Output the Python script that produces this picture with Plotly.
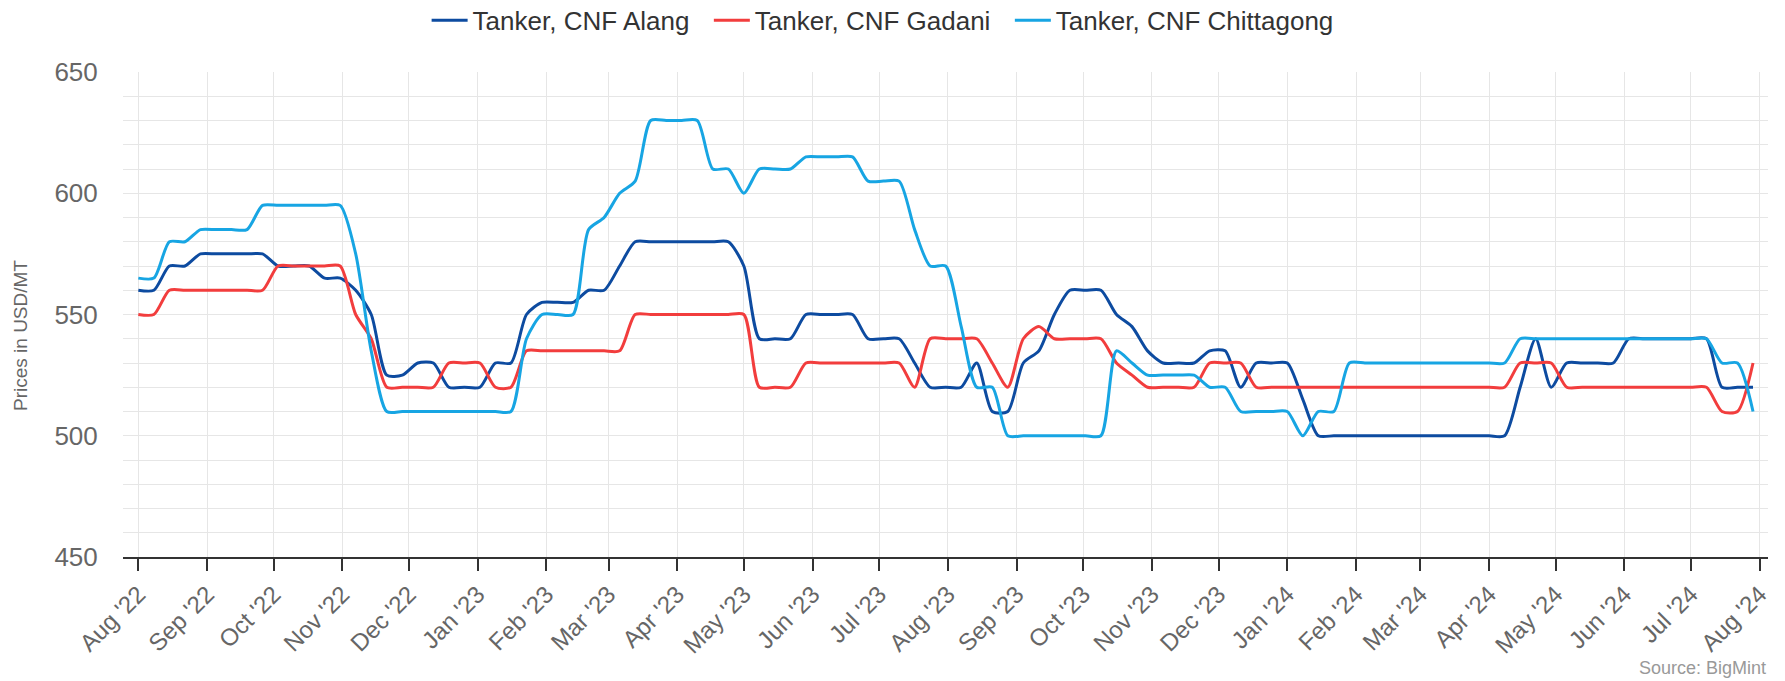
import pandas as pd
import plotly.graph_objects as go

# weekly price points (USD/MT), Aug '22 -> end Jul '24
weeks = pd.date_range("2022-08-01", periods=105, freq="7D")

alang = [
    560, 560, 570, 570, 575, 575, 575, 575, 575, 570, 570, 570, 565,
    565, 560, 550, 525, 525, 530, 530, 520, 520, 520, 530, 530, 550,
    555, 555, 555, 560, 560, 570, 580, 580, 580, 580, 580, 580, 580,
    570, 540, 540, 540, 550, 550, 550, 550, 540, 540, 540, 530, 520,
    520, 520, 530, 510, 510, 530, 535, 550, 560, 560, 560, 550, 545,
    535, 530, 530, 530, 535, 535, 520, 530, 530, 530, 515, 500, 500,
    500, 500, 500, 500, 500, 500, 500, 500, 500, 500, 500, 520, 540,
    520, 530, 530, 530, 530, 540, 540, 540, 540, 540, 540, 520, 520,
    520,
]
gadani = [
    550, 550, 560, 560, 560, 560, 560, 560, 560, 570, 570, 570, 570,
    570, 550, 540, 520, 520, 520, 520, 530, 530, 530, 520, 520, 535,
    535, 535, 535, 535, 535, 535, 550, 550, 550, 550, 550, 550, 550,
    550, 520, 520, 520, 530, 530, 530, 530, 530, 530, 530, 520, 540,
    540, 540, 540, 530, 520, 540, 545, 540, 540, 540, 540, 530, 525,
    520, 520, 520, 520, 530, 530, 530, 520, 520, 520, 520, 520, 520,
    520, 520, 520, 520, 520, 520, 520, 520, 520, 520, 520, 530, 530,
    530, 520, 520, 520, 520, 520, 520, 520, 520, 520, 520, 510, 510,
    530,
]
chittagong = [
    565, 565, 580, 580, 585, 585, 585, 585, 595, 595, 595, 595, 595,
    595, 575, 535, 510, 510, 510, 510, 510, 510, 510, 510, 510, 540,
    550, 550, 550, 585, 590, 600, 605, 630, 630, 630, 630, 610, 610,
    600, 610, 610, 610, 615, 615, 615, 615, 605, 605, 605, 585, 570,
    570, 545, 520, 520, 500, 500, 500, 500, 500, 500, 500, 535, 530,
    525, 525, 525, 525, 520, 520, 510, 510, 510, 510, 500, 510, 510,
    530, 530, 530, 530, 530, 530, 530, 530, 530, 530, 530, 540, 540,
    540, 540, 540, 540, 540, 540, 540, 540, 540, 540, 540, 530, 530,
    510,
]

SERIES = [
    ("Tanker, CNF Alang", alang, "#0D4BA0"),
    ("Tanker, CNF Gadani", gadani, "#F23D3D"),
    ("Tanker, CNF Chittagong", chittagong, "#17A5E3"),
]

FONT = "Arial, 'Liberation Sans', sans-serif"
GRID = "#e6e6e6"
PAD = "\u00a0\u00a0"  # extra room between legend entries

fig = go.Figure()
for i, (name, vals, color) in enumerate(SERIES):
    label = name + (PAD if i < len(SERIES) - 1 else "")
    fig.add_trace(go.Scatter(
        x=weeks, y=vals, name=label, mode="lines",
        line=dict(color=color, width=3, shape="spline", smoothing=0.7),
        hovertemplate="%{x|%d %b %Y}<br>%{y} USD/MT<extra>" + name + "</extra>",
    ))

fig.update_layout(
    width=1785, height=681,
    margin=dict(l=123, r=17, t=72, b=124),
    paper_bgcolor="white", plot_bgcolor="white",
    font=dict(family=FONT, color="#666"),
    legend=dict(
        orientation="h", xref="container", yref="container",
        x=0.239, xanchor="left", y=0.97, yanchor="middle",
        font=dict(size=26, color="#333"), itemwidth=36,
    ),
    xaxis=dict(
        type="date",
        range=["2022-07-25 02:00", "2024-08-04 18:00"],
        tick0="2022-08-01", dtick="M1", tickformat="%b '%y",
        tickangle=-45, tickfont=dict(size=24, color="#666"),
        showgrid=True, gridcolor=GRID, gridwidth=1,
        showline=True, linecolor="#333", linewidth=1.5,
        ticks="outside", ticklen=12, tickcolor="#333", tickwidth=1.5,
        zeroline=False,
    ),
    yaxis=dict(
        range=[450, 650], dtick=50,
        tickfont=dict(size=26, color="#666"),
        ticks="outside", ticklen=19, tickcolor="rgba(0,0,0,0)",
        showgrid=True, gridcolor=GRID, gridwidth=1,
        minor=dict(dtick=10, showgrid=True, gridcolor=GRID, gridwidth=1),
        showline=False, zeroline=False,
    ),
    annotations=[
        # axis title sits a bit below the plot's middle, so it is placed by hand
        dict(
            text="Prices in USD/MT", textangle=-90,
            xref="paper", yref="paper", x=0, y=0.4557,
            xanchor="center", yanchor="middle", xshift=-102,
            showarrow=False, font=dict(size=19, color="#666"),
        ),
        dict(
            text="Source: BigMint", xref="paper", yref="paper",
            x=1, y=-0.2536, xanchor="right", yanchor="bottom",
            showarrow=False, font=dict(size=18, color="#999"),
        ),
    ],
)

# no default page margin, so the figure sits at the window's top-left corner
fig.write_html(
    "out.html",
    config={"displayModeBar": False},
    post_script="document.body.style.margin = '0';",
)
